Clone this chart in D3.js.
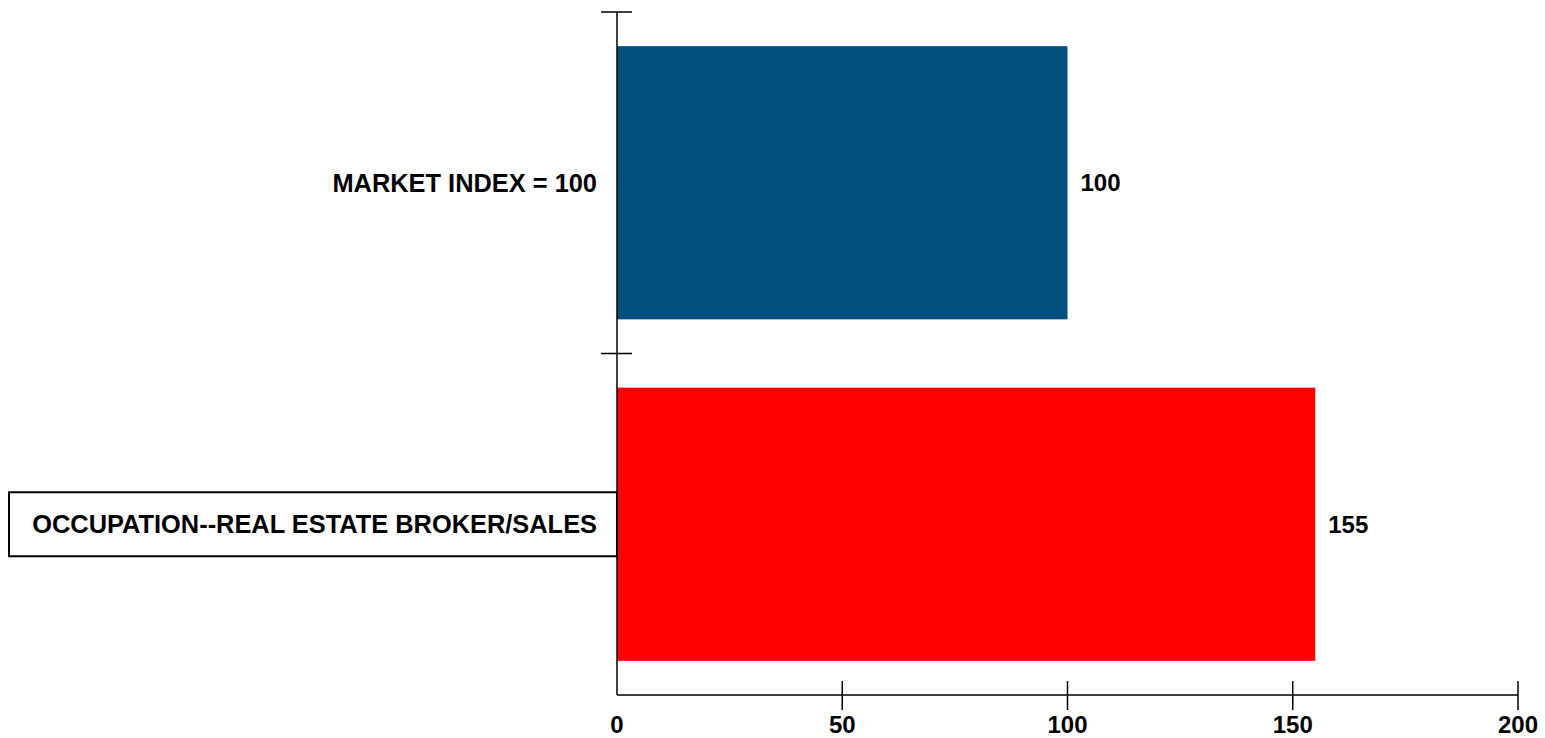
<!DOCTYPE html>
<html>
<head>
<meta charset="utf-8">
<script src="https://cdn.jsdelivr.net/npm/d3@7"></script>
<style>
  html, body { margin: 0; padding: 0; background: #fff; }
  svg { display: block; }
  text { font-family: "Liberation Sans", Arial, sans-serif; fill: #000; }
</style>
</head>
<body>
<svg id="chart" width="1545" height="738"></svg>
<script>
// Index values by category
const categories = ["MARKET INDEX = 100", "OCCUPATION--REAL ESTATE BROKER/SALES"];
const values = [100, 155];
const barColors = ["#03507e", "#ff0000"];
const xTicks = [0, 50, 100, 150, 200];
const highlighted = "OCCUPATION--REAL ESTATE BROKER/SALES";

const svg = d3.select("#chart");
const W = 1545, H = 738;
const margin = { top: 12, right: 27, bottom: 43, left: 617 };
const plotW = W - margin.left - margin.right;
const plotH = H - margin.top - margin.bottom;

const g = svg.append("g").attr("transform", `translate(${margin.left},${margin.top})`);

const x = d3.scaleLinear().domain([0, 200]).range([0, plotW]);
const y = d3.scaleBand().domain(categories).range([0, plotH]).padding(0);
const bw = y.bandwidth();
const barPad = bw * 0.1;

// bars
g.selectAll("rect.bar")
  .data(categories)
  .join("rect")
  .attr("class", "bar")
  .attr("x", x(0))
  .attr("y", d => y(d) + barPad)
  .attr("width", (d, i) => x(values[i]) - x(0))
  .attr("height", bw - 2 * barPad)
  .attr("fill", (d, i) => barColors[i]);

// value labels
g.selectAll("text.val")
  .data(categories)
  .join("text")
  .attr("class", "val")
  .attr("x", (d, i) => x(values[i]) + 13)
  .attr("y", d => y(d) + bw / 2)
  .attr("dy", "0.36em")
  .style("font-size", "24px")
  .style("font-weight", "bold")
  .text((d, i) => values[i]);

// y axis line with ticks at band boundaries
g.append("line")
  .attr("x1", 0).attr("x2", 0)
  .attr("y1", 0).attr("y2", plotH)
  .attr("stroke", "#000").attr("stroke-width", 1.5);

g.selectAll("line.ytick")
  .data(categories)
  .join("line")
  .attr("class", "ytick")
  .attr("x1", -16).attr("x2", 15)
  .attr("y1", d => y(d)).attr("y2", d => y(d))
  .attr("stroke", "#000").attr("stroke-width", 1.5);

// category labels
const labels = g.selectAll("g.cat")
  .data(categories)
  .join("g")
  .attr("class", "cat")
  .attr("transform", d => `translate(0,${y(d) + bw / 2})`);

labels.filter(d => d === highlighted)
  .append("rect")
  .attr("x", -608)
  .attr("y", -32)
  .attr("width", 608)
  .attr("height", 64)
  .attr("fill", "#fff")
  .attr("stroke", "#000")
  .attr("stroke-width", 2);

labels.append("text")
  .attr("x", -20)
  .attr("dy", "0.36em")
  .attr("text-anchor", "end")
  .style("font-size", "25.4px")
  .style("font-weight", "bold")
  .text(d => d);

// x axis
const xAxis = g.append("g").attr("transform", `translate(0,${plotH})`);
xAxis.append("line")
  .attr("x1", 0).attr("x2", plotW)
  .attr("y1", 0).attr("y2", 0)
  .attr("stroke", "#000").attr("stroke-width", 1.5);

xAxis.selectAll("line.xtick")
  .data(xTicks.filter(t => t !== 0))
  .join("line")
  .attr("class", "xtick")
  .attr("x1", d => x(d)).attr("x2", d => x(d))
  .attr("y1", -14).attr("y2", 15)
  .attr("stroke", "#000").attr("stroke-width", 1.5);

xAxis.selectAll("text.xlab")
  .data(xTicks)
  .join("text")
  .attr("class", "xlab")
  .attr("x", d => x(d))
  .attr("y", 38)
  .attr("text-anchor", "middle")
  .style("font-size", "24px")
  .style("font-weight", "bold")
  .text(d => d);
</script>
</body>
</html>
